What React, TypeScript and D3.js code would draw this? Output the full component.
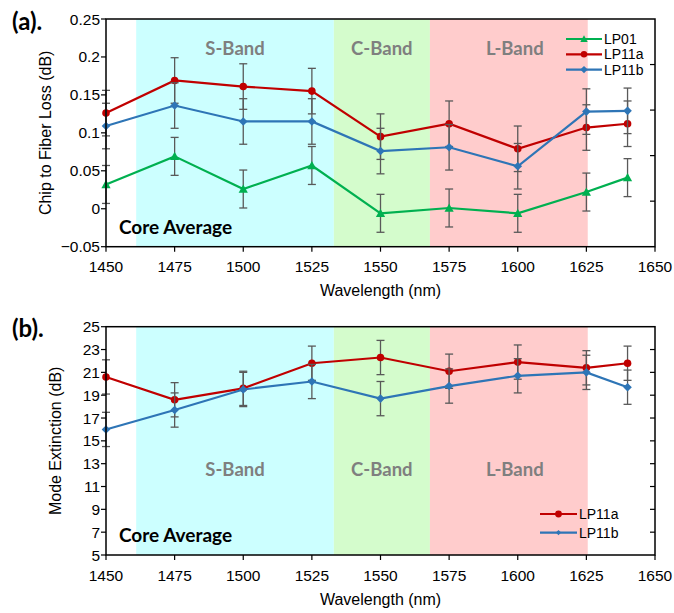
import React from "react";
import * as d3 from "d3";

// wavelengths (nm) where the cores were measured
const wavelengths = [1450, 1475, 1500, 1525, 1550, 1575, 1600, 1625, 1640];

// (a) chip to fiber loss, dB
const lossLP01 = [0.032, 0.069, 0.026, 0.057, -0.006, 0.001, -0.006, 0.022, 0.041];
const lossLP11a = [0.126, 0.169, 0.161, 0.155, 0.095, 0.112, 0.079, 0.107, 0.112];
const lossLP11b = [0.109, 0.136, 0.115, 0.115, 0.076, 0.081, 0.056, 0.128, 0.129];
const lossErrLP01 = [0.025, 0.025, 0.025, 0.025, 0.025, 0.025, 0.025, 0.025, 0.025];
const lossErrLP11a = [0.03, 0.03, 0.03, 0.03, 0.03, 0.03, 0.03, 0.03, 0.03];
const lossErrLP11b = [0.03, 0.03, 0.03, 0.03, 0.03, 0.03, 0.03, 0.03, 0.03];

// (b) mode extinction, dB
const extLP11a = [20.6, 18.6, 19.6, 21.8, 22.3, 21.1, 21.9, 21.4, 21.8];
const extLP11b = [16.0, 17.7, 19.5, 20.2, 18.7, 19.8, 20.7, 21.0, 19.7];
const extErrLP11a = [1.5, 1.5, 1.5, 1.5, 1.5, 1.5, 1.5, 1.5, 1.5];
const extErrLP11b = [1.5, 1.5, 1.5, 1.5, 1.5, 1.5, 1.5, 1.5, 1.5];

const bandNames = ["S-Band", "C-Band", "L-Band"];
const bandStart = [1461, 1533, 1568];
const bandEnd = [1533, 1568, 1625.5];
const bandColors = ["#ccffff", "#d4fccc", "#ffcccc"];

const xTicks = [1450, 1475, 1500, 1525, 1550, 1575, 1600, 1625, 1650];
const lossTicks = [-0.05, 0, 0.05, 0.1, 0.15, 0.2, 0.25];
const extTicks = [5, 7, 9, 11, 13, 15, 17, 19, 21, 23, 25];

const GREEN = "#00b050";
const RED = "#c00000";
const BLUE = "#2e75b6";
const ERR = "#595959";
const ARIAL = "'Liberation Sans', Arial, sans-serif";
const CALIBRI = "Lato, 'Open Sans', sans-serif";

type Series = { name: string; values: number[]; err: number[]; color: string; marker: string };

const Marker = ({ x, y, type, color, size = 1 }) => {
  if (type === "circle") return <circle cx={x} cy={y} r={3.8 * size} fill={color} />;
  if (type === "triangle") {
    const s = 4.6 * size;
    return <path d={`M${x},${y - s}L${x + s},${y + s * 0.8}L${x - s},${y + s * 0.8}Z`} fill={color} />;
  }
  const s = 4.3 * size;
  return <path d={`M${x},${y - s}L${x + s},${y}L${x},${y + s}L${x - s},${y}Z`} fill={color} />;
};

const Panel = ({ top, height, domain, ticks, tickFmt, series, label, yTitle, titleX, bandLabelY, coreY, legend, rightTicks }) => {
  const left = 106;
  const right = 655;
  const x = d3.scaleLinear().domain([1450, 1650]).range([left, right]);
  const y = d3.scaleLinear().domain(domain).range([top + height, top]);
  const line = d3.line<number>().x((d, i) => x(wavelengths[i])).y((d) => y(d));
  const bottom = top + height;

  return (
    <g>
      {bandNames.map((b, i) => (
        <rect key={b} x={x(bandStart[i])} y={top} width={x(bandEnd[i]) - x(bandStart[i])} height={height} fill={bandColors[i]} />
      ))}
      {bandNames.map((b, i) => (
        <text key={b + "t"} x={(x(bandStart[i]) + x(bandEnd[i])) / 2 + (i === 2 ? 6 : 0)} y={bandLabelY} fill="#7f7f7f"
          fontFamily={CALIBRI} fontWeight="bold" fontSize={18.5} textAnchor="middle" dominantBaseline="middle">{b}</text>
      ))}
      <text x={119} y={coreY} fontFamily={CALIBRI} fontWeight="bold" fontSize={19} dominantBaseline="middle">Core Average</text>

      {series.map((s: Series) => (
        <g key={s.name}>
          {s.values.map((v, i) => {
            const cx = x(wavelengths[i]);
            return (
              <g key={i} stroke={ERR} strokeWidth={1.3}>
                <line x1={cx} x2={cx} y1={y(v - s.err[i])} y2={y(v + s.err[i])} />
                <line x1={cx - 4} x2={cx + 4} y1={y(v - s.err[i])} y2={y(v - s.err[i])} />
                <line x1={cx - 4} x2={cx + 4} y1={y(v + s.err[i])} y2={y(v + s.err[i])} />
              </g>
            );
          })}
          <path d={line(s.values)} fill="none" stroke={s.color} strokeWidth={2.2} />
          {s.values.map((v, i) => (
            <Marker key={i} x={x(wavelengths[i])} y={y(v)} type={s.marker} color={s.color} />
          ))}
        </g>
      ))}

      <rect x={left} y={top} width={right - left} height={height} fill="none" stroke="#000" strokeWidth={1.5} />
      {ticks.map((t) => (
        <g key={t}>
          <line x1={left - 5} x2={left} y1={y(t)} y2={y(t)} stroke="#000" strokeWidth={1.2} />
          <text x={100} y={y(t)} textAnchor="end" dominantBaseline="central" fontFamily={ARIAL} fontSize={15.5}>{tickFmt(t)}</text>
        </g>
      ))}
      {rightTicks.map((t) => (
        <line key={t} x1={right - 5} x2={right} y1={t} y2={t} stroke="#000" strokeWidth={1.2} />
      ))}
      {xTicks.map((t) => (
        <g key={t}>
          <line x1={x(t)} x2={x(t)} y1={bottom} y2={bottom + 5} stroke="#000" strokeWidth={1.2} />
          <text x={x(t)} y={bottom + 20} textAnchor="middle" dominantBaseline="central" fontFamily={ARIAL} fontSize={15.5}>{t}</text>
        </g>
      ))}
      <text x={(left + right) / 2} y={bottom + 44} textAnchor="middle" dominantBaseline="central" fontFamily={ARIAL} fontSize={16}>Wavelength (nm)</text>
      <text transform={`translate(${titleX},${top + height / 2}) rotate(-90)`} textAnchor="middle" dominantBaseline="central" fontFamily={ARIAL} fontSize={16}>{yTitle}</text>
      <text x={12} y={top + 1} dominantBaseline="central" fontFamily={CALIBRI} fontWeight="bold" fontSize={24}>{label}</text>

      {series.map((s: Series, i) => {
        const ly = legend.y + i * legend.step;
        return (
          <g key={s.name + "l"}>
            <line x1={legend.x} x2={legend.x + legend.len} y1={ly} y2={ly} stroke={s.color} strokeWidth={2.2} />
            <Marker x={legend.x + legend.len / 2} y={ly} type={s.marker} color={s.color} size={legend.marker[i]} />
            <text x={legend.x + legend.len + 2} y={ly} dominantBaseline="central" fontFamily={ARIAL} fontSize={14}>{s.name}</text>
          </g>
        );
      })}
    </g>
  );
};

export default function App() {
  const lossSeries: Series[] = [
    { name: "LP01", values: lossLP01, err: lossErrLP01, color: GREEN, marker: "triangle" },
    { name: "LP11a", values: lossLP11a, err: lossErrLP11a, color: RED, marker: "circle" },
    { name: "LP11b", values: lossLP11b, err: lossErrLP11b, color: BLUE, marker: "diamond" },
  ];
  const extSeries: Series[] = [
    { name: "LP11a", values: extLP11a, err: extErrLP11a, color: RED, marker: "circle" },
    { name: "LP11b", values: extLP11b, err: extErrLP11b, color: BLUE, marker: "diamond" },
  ];
  const topH = 227.7;
  const botTop = 326.7;
  const botH = 228.3;
  return (
    <svg width={674} height={613} style={{ position: "absolute", left: 0, top: 0, background: "#fff" }}>
      <Panel top={19} height={topH} domain={[-0.05, 0.25]} ticks={lossTicks}
        tickFmt={(t) => d3.format("~g")(+t.toFixed(2))} series={lossSeries} label="(a)."
        yTitle="Chip to Fiber Loss (dB)" titleX={45} bandLabelY={50} coreY={229}
        legend={{ x: 566, len: 36, y: 39, step: 15.3, marker: [0.8, 0.85, 0.85] }}
        rightTicks={[1, 2, 3, 4].map((k) => 19 + (topH / 5) * k)} />
      <Panel top={botTop} height={botH} domain={[5, 25]} ticks={extTicks}
        tickFmt={(t) => String(t)} series={extSeries} label="(b)."
        yTitle="Mode Extinction (dB)" titleX={55} bandLabelY={471} coreY={537}
        legend={{ x: 540, len: 37, y: 514, step: 18.6, marker: [0.9, 0.6] }}
        rightTicks={[1, 2, 3, 4, 5, 6, 7, 8, 9].map((k) => botTop + (botH / 10) * k)} />
    </svg>
  );
}
